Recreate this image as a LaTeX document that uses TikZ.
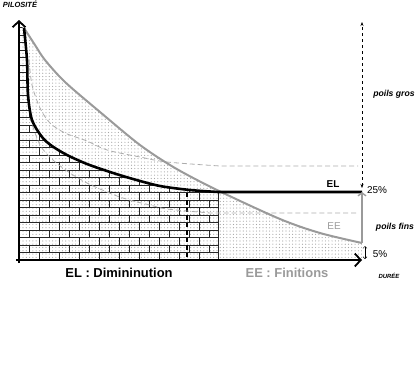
\documentclass[tikz,border=0pt]{standalone}
\usepackage{fontspec}
\setmainfont{Liberation Sans}
\usepackage{xcolor}
\usetikzlibrary{arrows.meta,patterns.meta,positioning,calc}

\definecolor{eegray}{HTML}{9A9A9A}
\tikzdeclarepattern{
  name=pilodots,
  type=uncolored,
  bounding box={(-1pt,-1pt) and (1pt,1pt)},
  tile size={(3.3pt,3.3pt)},
  code={\fill (0pt,0pt) circle (0.6pt);}
}
\tikzset{
  axisline/.style={line width=2.4pt, -{Straight Barb[length=6pt,width=13pt,line width=1.8pt]}},
  elline/.style={line width=2.6pt, black},
  eeline/.style={line width=2pt, eegray},
  bandline/.style={gray!65, line width=0.8pt, dash pattern=on 5pt off 3pt},
  dotzone/.style={pattern=pilodots, pattern color=gray!70},
  brick/.style={line width=0.55pt, black!85},
  tag/.style={font=\bfseries\itshape\fontsize{8.7}{10}\selectfont, inner sep=0pt},
  pct/.style={font=\fontsize{10}{12}\selectfont, inner sep=0pt},
  legend/.style={font=\bfseries\fontsize{13}{15}\selectfont, inner sep=0pt},
}

\begin{document}
\begin{tikzpicture}[x=1bp, y=-1bp]
    \useasboundingbox (0,0) rectangle (420,379);
    \coordinate (O) at (19,260);
    \coordinate (elend) at (362,192);
    \coordinate (eeend) at (362,243);
    \coordinate (grostop) at (362,22);
    \coordinate (grosbot) at (362,188);

    % Zones
    \fill[dotzone] (O) -- (19,26) -- plot[smooth] coordinates {(24,28) (35,45) (45,60) (65,82) (100,112) (140,145) (175,168) (217,190) (280,219) (320,233) (362,243)} -- (362,260) -- cycle;
    \begin{scope}
        \clip (O) -- (19,26) -- plot[smooth] coordinates {(24,28) (27,60) (28,95) (32,120) (42,137) (52,146) (67,155) (87,164) (110,172) (133,179) (160,186) (190,190) (218,192)} -- (218,260) -- cycle;
        \foreach \r in {0,...,31} {
            \draw[brick] (19,{260-\r*7.5}) -- (218,{260-\r*7.5});
            \foreach \k in {0,...,10}
                \draw[brick] ({19+\k*20+mod(\r,2)*10},{260-\r*7.5}) -- ++(0,-7.5);
        }
    \end{scope}
    \draw[brick] (218,192) -- (218,260);
    \draw[line width=1.6pt, dash pattern=on 4.5pt off 3pt] (187,193) -- (187,260);

    % Bandes EL
    \draw[bandline] plot[smooth] coordinates {(29,60) (32,85) (40,108) (50,123) (65,133) (87,141) (107,150) (140,157) (167,162) (220,166)} -- (358,166);
    \draw[bandline] plot[smooth] coordinates {(30,118) (40,145) (53,160) (70,173) (87,183) (100,189) (117,196) (133,201) (150,205) (167,209) (210,213)} -- (358,213);

    % Courbes
    \draw[eeline] plot[smooth] coordinates {(24,28) (35,45) (45,60) (65,82) (100,112) (140,145) (175,168) (217,190) (280,219) (320,233) (eeend)};
    \draw[elline] plot[smooth] coordinates {(24,28) (27,60) (28,95) (32,120) (42,137) (52,146) (67,155) (87,164) (110,172) (133,179) (160,186) (190,190) (218,192)} -- (elend);

    % Axes
    \draw[axisline] (19,263) -- (19,20);
    \draw[axisline] (16,260) -- (362,260);

    % Fleches de droite
    \draw[dashed, line width=0.5pt, {Stealth[length=4pt,width=3pt]}-{Stealth[length=4pt,width=3pt]}] (grosbot) -- (grostop);
    \draw[eegray, line width=1.4pt, -{Straight Barb[length=3pt,width=8pt]}] (eeend) -- (elend);
    \draw[line width=0.5pt, {Straight Barb[length=2pt,width=4pt]}-{Straight Barb[length=2pt,width=4pt]}] (365,246) -- (365,259);

    % Textes
    \node[tag, font=\bfseries\itshape\fontsize{7.5}{9}\selectfont] (pilo) at (20,4.5) {PILOSITÉ};
    \node[tag, font=\bfseries\itshape\fontsize{6}{7}\selectfont] (duree) at (389,276) {DURÉE};
    \node[tag] (gros) at (394,94) {poils gros};
    \node[tag] (fins) at (395,227) {poils fins};
    \node[pct] (p25) at (377,190) {25\%};
    \node[pct] (p5) at (380,254) {5\%};
    \node[pct, font=\bfseries\fontsize{10}{12}\selectfont] (el) at (333,184) {EL};
    \node[pct, text=eegray] (ee) at (334,226) {EE};
    \node[legend] (dimi) at (119,273) {EL : Dimininution};
    \node[legend, text=eegray] (fini) at (287,273) {EE : Finitions};
\end{tikzpicture}
\end{document}
